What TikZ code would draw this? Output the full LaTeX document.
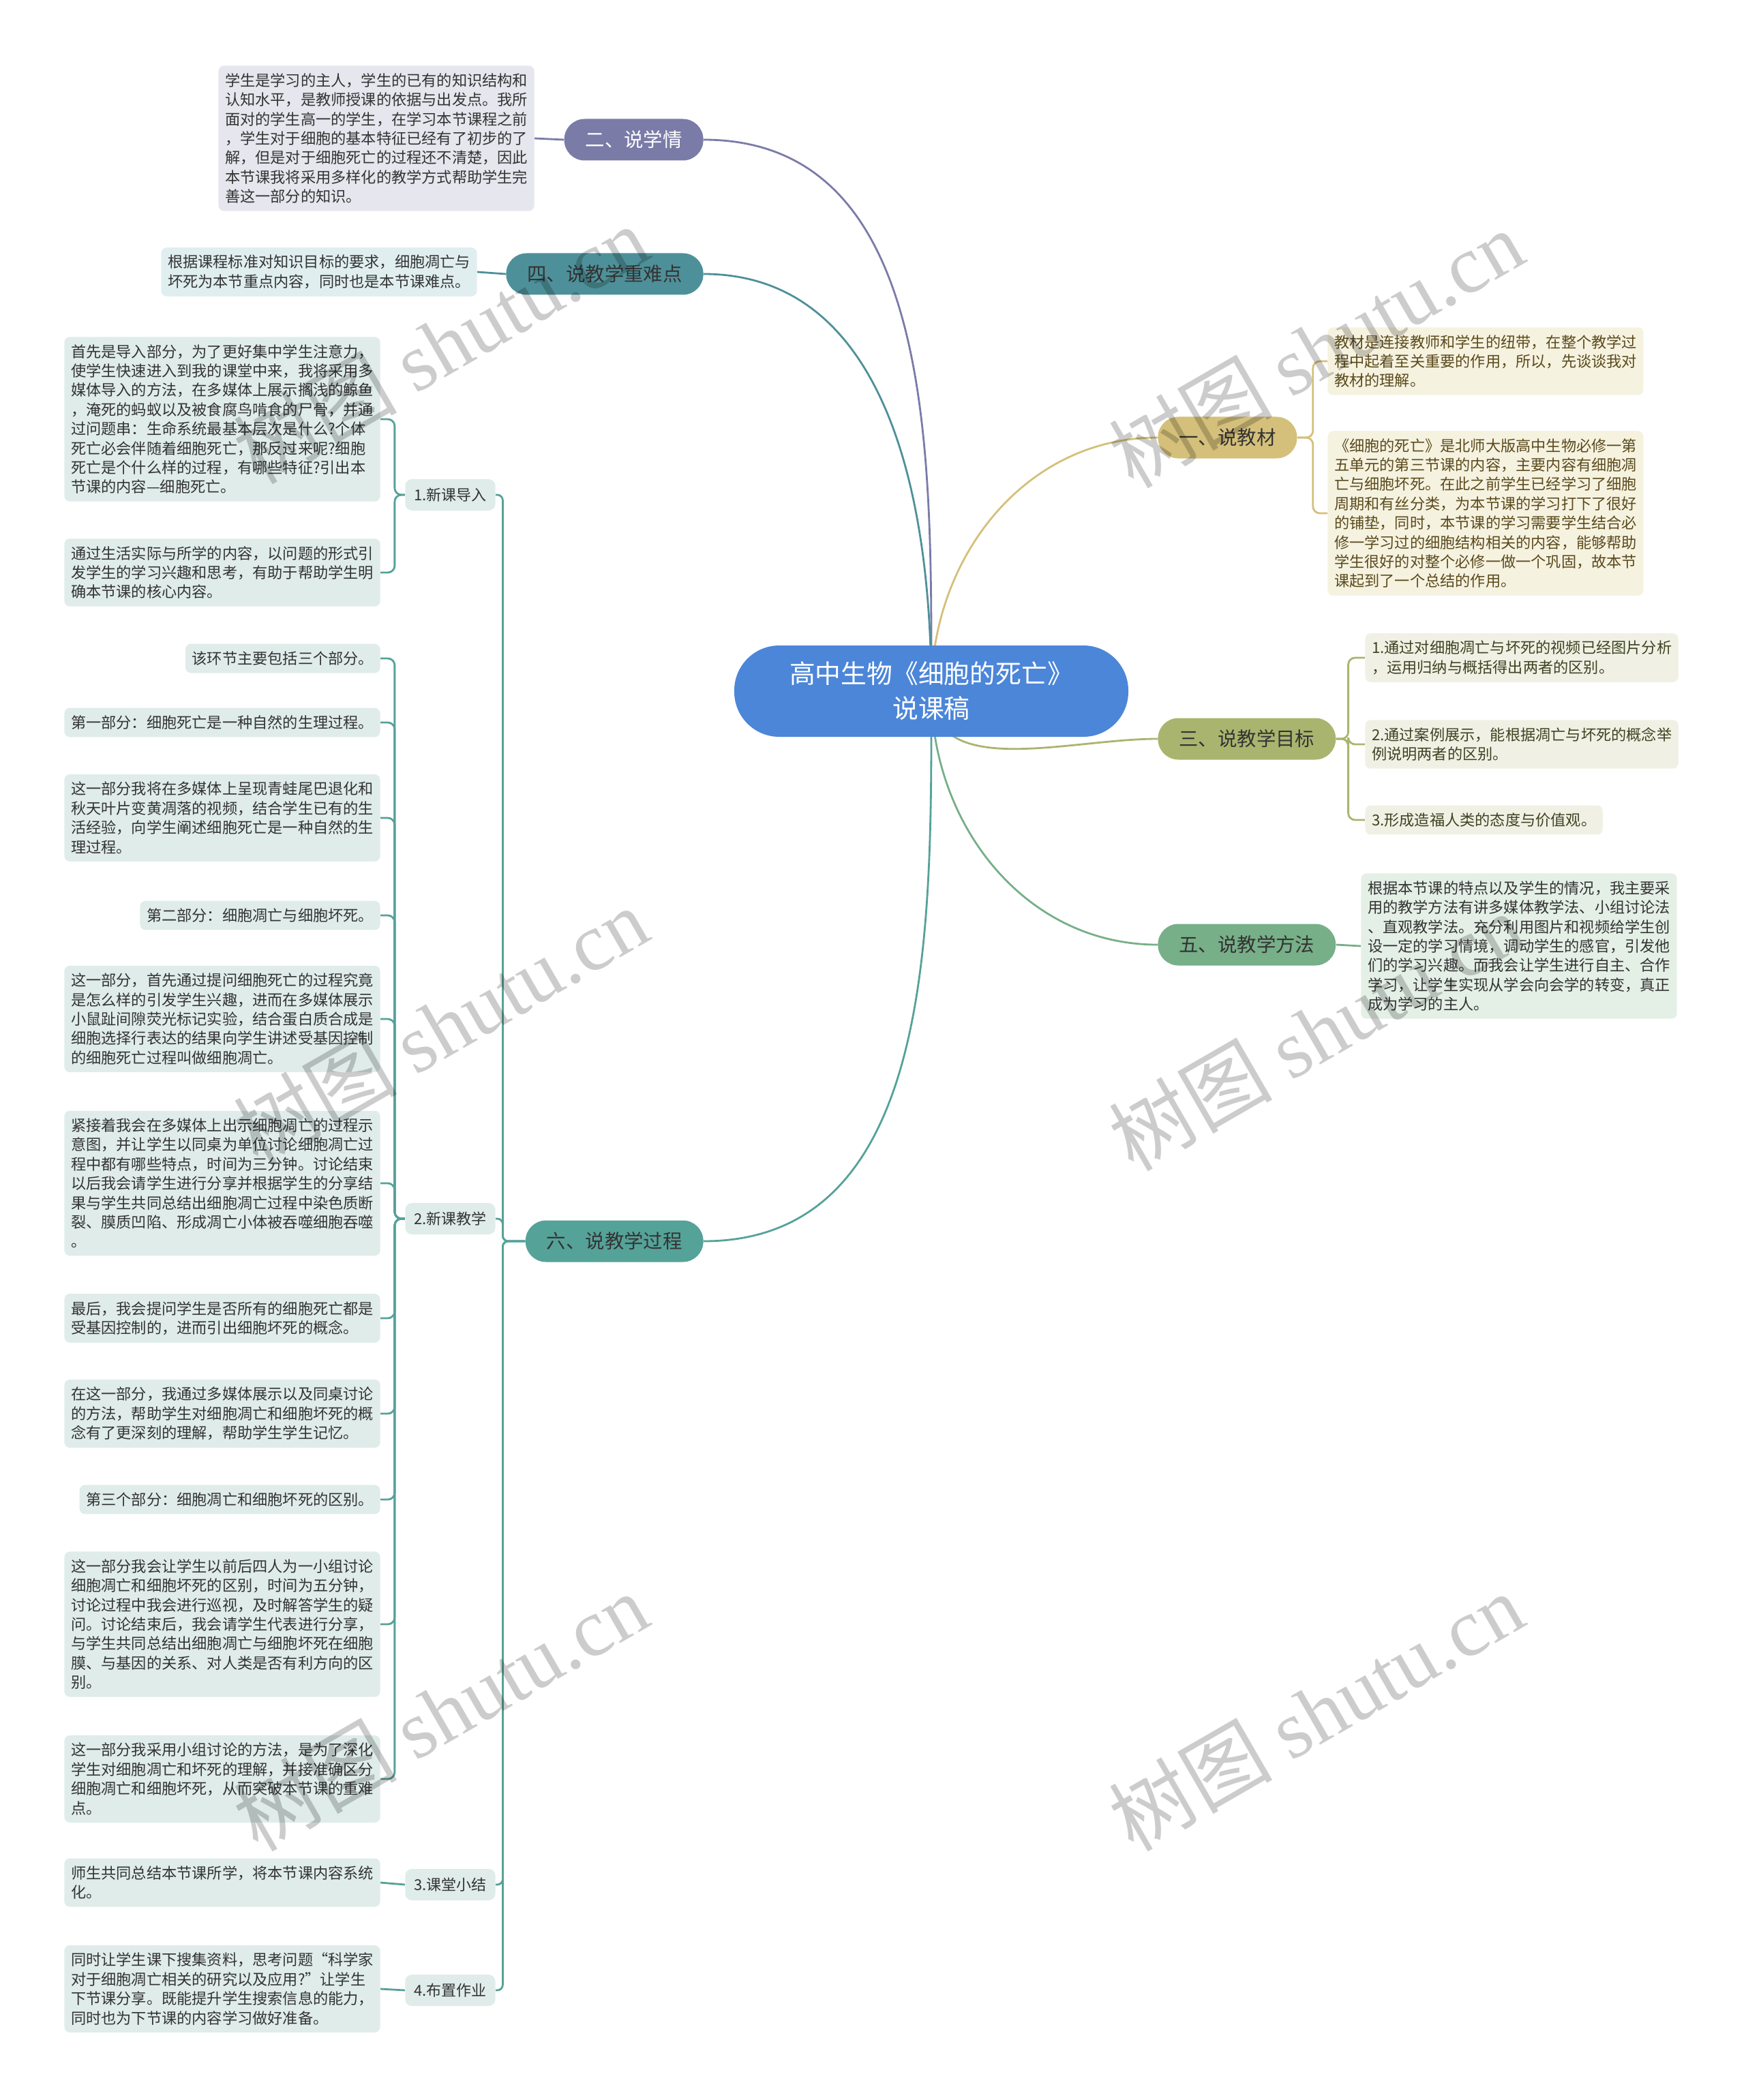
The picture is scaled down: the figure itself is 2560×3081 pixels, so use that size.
\documentclass[tikz,border=0pt]{standalone}
\usepackage{fontspec}
\setmainfont{Noto Sans CJK SC}
\newfontfamily\wmlatin{Liberation Serif}
\usetikzlibrary{backgrounds}

\definecolor{rootblue}{HTML}{4C86D9}
\definecolor{cxq}{HTML}{7B7BA8}
\definecolor{cnd}{HTML}{4E9099}
\definecolor{cjc}{HTML}{D4C07A}
\definecolor{cmb}{HTML}{A9B56E}
\definecolor{cff}{HTML}{77AF88}
\definecolor{cgc}{HTML}{55A299}
\definecolor{fxq}{HTML}{E6E6EE}
\definecolor{fnd}{HTML}{E0EEF0}
\definecolor{fjc}{HTML}{F6F2E0}
\definecolor{fmb}{HTML}{F0F1E4}
\definecolor{fff}{HTML}{E4EFE6}
\definecolor{fgc}{HTML}{DFECEA}
\definecolor{tdark}{HTML}{333333}
\definecolor{tjc}{HTML}{5A4A1C}
\definecolor{tmb}{HTML}{3E4322}

\tikzset{
  root/.style={fill=rootblue, text=white, rounded corners=33pt, minimum width=289pt,
    minimum height=67pt, align=center, font=\fontsize{18.9}{25.5}\selectfont},
  branch/.style={rounded corners=15pt, minimum height=30.5pt, inner xsep=15.5pt,
    font=\fontsize{14.2}{17}\selectfont},
  subnode/.style={fill=fgc, text=tdark, rounded corners=5pt, minimum height=23pt,
    inner xsep=6.5pt, font=\fontsize{11}{14}\selectfont},
  leaf/.style={rounded corners=4pt, inner xsep=4.8pt, inner ysep=5.5pt, align=left,
    text=tdark, font=\fontsize{11.1}{14.2}\selectfont},
  link/.style={line width=1.4pt},
  wmark/.style={text=black, text opacity=0.2, rotate=30, font=\fontsize{60}{60}\selectfont}
}

\begin{document}
\begin{tikzpicture}[x=0.5pt, y=-0.5pt]
  \useasboundingbox (0,0) rectangle (2560,3081);

  % Centre
  \node[root] (root) at (1366,1014) {高中生物《细胞的死亡》\\说课稿};

  % Left branches
  \node[branch, fill=cxq, text=white, anchor=east] (xueqing) at (1032,205) {二、说学情};
  \node[branch, fill=cnd, text=tdark, anchor=east] (zhongdian) at (1032,402) {四、说教学重难点};
  \node[branch, fill=cgc, text=tdark, anchor=east] (guocheng) at (1032,1821) {六、说教学过程};

  % Right branches
  \node[branch, fill=cjc, text=tdark, anchor=west] (jiaocai) at (1698,642) {一、说教材};
  \node[branch, fill=cmb, text=tdark, anchor=west] (mubiao) at (1698,1084) {三、说教学目标};
  \node[branch, fill=cff, text=tdark, anchor=west] (fangfa) at (1698,1386) {五、说教学方法};

  % 二
  \node[leaf, fill=fxq, anchor=east] (xueqingA) at (784,203) {学生是学习的主人，学生的已有的知识结构和\\认知水平，是教师授课的依据与出发点。我所\\面对的学生高一的学生，在学习本节课程之前\\，学生对于细胞的基本特征已经有了初步的了\\解，但是对于细胞死亡的过程还不清楚，因此\\本节课我将采用多样化的教学方式帮助学生完\\善这一部分的知识。};

  % 四
  \node[leaf, fill=fnd, anchor=east] (zhongdianA) at (700,399) {根据课程标准对知识目标的要求，细胞凋亡与\\坏死为本节重点内容，同时也是本节课难点。};

  % 一
  \node[leaf, fill=fjc, text=tjc, anchor=west] (jiaocaiA) at (1947,530) {教材是连接教师和学生的纽带，在整个教学过\\程中起着至关重要的作用，所以，先谈谈我对\\教材的理解。};
  \node[leaf, fill=fjc, text=tjc, anchor=west] (jiaocaiB) at (1947,753) {《细胞的死亡》是北师大版高中生物必修一第\\五单元的第三节课的内容，主要内容有细胞凋\\亡与细胞坏死。在此之前学生已经学习了细胞\\周期和有丝分类，为本节课的学习打下了很好\\的铺垫，同时，本节课的学习需要学生结合必\\修一学习过的细胞结构相关的内容，能够帮助\\学生很好的对整个必修一做一个巩固，故本节\\课起到了一个总结的作用。};

  % 三
  \node[leaf, fill=fmb, text=tmb, anchor=west] (mubiaoA) at (2002,965) {1.通过对细胞凋亡与坏死的视频已经图片分析\\，运用归纳与概括得出两者的区别。};
  \node[leaf, fill=fmb, text=tmb, anchor=west] (mubiaoB) at (2002,1092) {2.通过案例展示，能根据凋亡与坏死的概念举\\例说明两者的区别。};
  \node[leaf, fill=fmb, text=tmb, anchor=west] (mubiaoC) at (2002,1203) {3.形成造福人类的态度与价值观。};

  % 五
  \node[leaf, fill=fff, anchor=west] (fangfaA) at (1996,1388) {根据本节课的特点以及学生的情况，我主要采\\用的教学方法有讲多媒体教学法、小组讨论法\\、直观教学法。充分利用图片和视频给学生创\\设一定的学习情境，调动学生的感官，引发他\\们的学习兴趣。而我会让学生进行自主、合作\\学习，让学生实现从学会向会学的转变，真正\\成为学习的主人。};

  % 六
  \node[subnode, anchor=east] (daoru) at (727,726) {1.新课导入};
  \node[subnode, anchor=east] (jiaoxue) at (727,1788) {2.新课教学};
  \node[subnode, anchor=east] (xiaojie) at (727,2765) {3.课堂小结};
  \node[subnode, anchor=east] (zuoye) at (727,2920) {4.布置作业};

  \node[leaf, fill=fgc, anchor=east] (daoruA) at (558,615) {首先是导入部分，为了更好集中学生注意力，\\使学生快速进入到我的课堂中来，我将采用多\\媒体导入的方法，在多媒体上展示搁浅的鲸鱼\\，淹死的蚂蚁以及被食腐鸟啃食的尸骨，并通\\过问题串：生命系统最基本层次是什么?个体\\死亡必会伴随着细胞死亡，那反过来呢?细胞\\死亡是个什么样的过程，有哪些特征?引出本\\节课的内容—细胞死亡。};
  \node[leaf, fill=fgc, anchor=east] (daoruB) at (558,840) {通过生活实际与所学的内容，以问题的形式引\\发学生的学习兴趣和思考，有助于帮助学生明\\确本节课的核心内容。};

  \node[leaf, fill=fgc, anchor=east] (jiaoxueA) at (558,966) {该环节主要包括三个部分。};
  \node[leaf, fill=fgc, anchor=east] (jiaoxueB) at (558,1060) {第一部分：细胞死亡是一种自然的生理过程。};
  \node[leaf, fill=fgc, anchor=east] (jiaoxueC) at (558,1200) {这一部分我将在多媒体上呈现青蛙尾巴退化和\\秋天叶片变黄凋落的视频，结合学生已有的生\\活经验，向学生阐述细胞死亡是一种自然的生\\理过程。};
  \node[leaf, fill=fgc, anchor=east] (jiaoxueD) at (558,1343) {第二部分：细胞凋亡与细胞坏死。};
  \node[leaf, fill=fgc, anchor=east] (jiaoxueE) at (558,1495) {这一部分，首先通过提问细胞死亡的过程究竟\\是怎么样的引发学生兴趣，进而在多媒体展示\\小鼠趾间隙荧光标记实验，结合蛋白质合成是\\细胞选择行表达的结果向学生讲述受基因控制\\的细胞死亡过程叫做细胞凋亡。};
  \node[leaf, fill=fgc, anchor=east] (jiaoxueF) at (558,1736) {紧接着我会在多媒体上出示细胞凋亡的过程示\\意图，并让学生以同桌为单位讨论细胞凋亡过\\程中都有哪些特点，时间为三分钟。讨论结束\\以后我会请学生进行分享并根据学生的分享结\\果与学生共同总结出细胞凋亡过程中染色质断\\裂、膜质凹陷、形成凋亡小体被吞噬细胞吞噬\\。};
  \node[leaf, fill=fgc, anchor=east] (jiaoxueG) at (558,1934) {最后，我会提问学生是否所有的细胞死亡都是\\受基因控制的，进而引出细胞坏死的概念。};
  \node[leaf, fill=fgc, anchor=east] (jiaoxueH) at (558,2074) {在这一部分，我通过多媒体展示以及同桌讨论\\的方法，帮助学生对细胞凋亡和细胞坏死的概\\念有了更深刻的理解，帮助学生学生记忆。};
  \node[leaf, fill=fgc, anchor=east] (jiaoxueI) at (558,2200) {第三个部分：细胞凋亡和细胞坏死的区别。};
  \node[leaf, fill=fgc, anchor=east] (jiaoxueJ) at (558,2383) {这一部分我会让学生以前后四人为一小组讨论\\细胞凋亡和细胞坏死的区别，时间为五分钟，\\讨论过程中我会进行巡视，及时解答学生的疑\\问。讨论结束后，我会请学生代表进行分享，\\与学生共同总结出细胞凋亡与细胞坏死在细胞\\膜、与基因的关系、对人类是否有利方向的区\\别。};
  \node[leaf, fill=fgc, anchor=east] (jiaoxueK) at (558,2610) {这一部分我采用小组讨论的方法，是为了深化\\学生对细胞凋亡和坏死的理解，并接准确区分\\细胞凋亡和细胞坏死，从而突破本节课的重难\\点。};

  \node[leaf, fill=fgc, anchor=east] (xiaojieA) at (558,2762) {师生共同总结本节课所学，将本节课内容系统\\化。};
  \node[leaf, fill=fgc, anchor=east] (zuoyeA) at (558,2918) {同时让学生课下搜集资料，思考问题“科学家\\对于细胞凋亡相关的研究以及应用?”让学生\\下节课分享。既能提升学生搜索信息的能力，\\同时也为下节课的内容学习做好准备。};

  \begin{scope}[on background layer]
    % Centre to branches
    \draw[link, cxq] (root.center) to[out=90, in=0] (xueqing.east);
    \draw[link, cnd] (root.center) to[out=90, in=0] (zhongdian.east);
    \draw[link, cgc] (root.center) to[out=270, in=0] (guocheng.east);
    \draw[link, cjc] (root.center) to[out=90, in=180] (jiaocai.west);
    \draw[link, cmb] (root.center) to[out=270, in=180] (mubiao.west);
    \draw[link, cff] (root.center) to[out=270, in=180] (fangfa.west);

    % Branches to leaves
    \draw[link, cxq] (xueqing.west) -- (xueqingA.east);
    \draw[link, cnd] (zhongdian.west) -- (zhongdianA.east);
    \draw[link, cff] (fangfa.east) -- (fangfaA.west);
    \foreach \t in {jiaocaiA, jiaocaiB}
      \draw[link, cjc, rounded corners=5pt] (jiaocai.east) -- ++(23,0) |- (\t.west);
    \foreach \t in {mubiaoA, mubiaoB, mubiaoC}
      \draw[link, cmb, rounded corners=5pt] (mubiao.east) -- ++(18,0) |- (\t.west);

    % 六
    \foreach \t in {daoru, jiaoxue, xiaojie, zuoye}
      \draw[link, cgc, rounded corners=4pt] (guocheng.west) -- ++(-33,0) |- (\t.east);
    \foreach \t in {daoruA, daoruB}
      \draw[link, cgc, rounded corners=5pt] (daoru.west) -- ++(-15,0) |- (\t.east);
    \foreach \t in {jiaoxueA, jiaoxueB, jiaoxueC, jiaoxueD, jiaoxueE, jiaoxueF,
                    jiaoxueG, jiaoxueH, jiaoxueI, jiaoxueJ, jiaoxueK}
      \draw[link, cgc, rounded corners=5pt] (jiaoxue.west) -- ++(-15,0) |- (\t.east);
    \draw[link, cgc] (xiaojie.west) -- (xiaojieA.east);
    \draw[link, cgc] (zuoye.west) -- (zuoyeA.east);
  \end{scope}

  % Watermarks
  \node[wmark] (wmA) at (646,505) {树图 {\wmlatin shutu.cn}};
  \node[wmark] (wmB) at (646,1505) {树图 {\wmlatin shutu.cn}};
  \node[wmark] (wmC) at (646,2511) {树图 {\wmlatin shutu.cn}};
  \node[wmark] (wmD) at (1930,511) {树图 {\wmlatin shutu.cn}};
  \node[wmark] (wmE) at (1930,1513) {树图 {\wmlatin shutu.cn}};
  \node[wmark] (wmF) at (1930,2511) {树图 {\wmlatin shutu.cn}};
\end{tikzpicture}
\end{document}
